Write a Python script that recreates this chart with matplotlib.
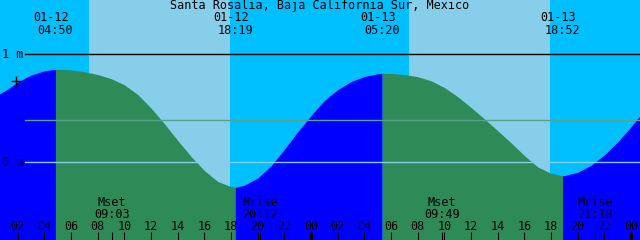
import numpy as np
import matplotlib
matplotlib.use("Agg")
from matplotlib import pyplot as plt
import matplotlib.transforms as mtransforms

# tide heights (m), every hour from 01-12 00:00
hours = list(range(0, 50))
heights = [0.59, 0.655, 0.74, 0.805, 0.845, 0.858, 0.853, 0.836, 0.81, 0.772,
           0.715, 0.625, 0.50, 0.355, 0.200, 0.052, -0.079, -0.18, -0.228, -0.215,
           -0.148, -0.035, 0.117, 0.28, 0.43, 0.57, 0.67, 0.745, 0.792, 0.817,
           0.82, 0.81, 0.79, 0.752, 0.69, 0.605, 0.505, 0.40, 0.29, 0.178,
           0.06, -0.045, -0.105, -0.126, -0.095, -0.03, 0.066, 0.186, 0.326, 0.48]

# high / low tides
ext_day = [0, 0, 1, 1]
ext_dates = ["01-12", "01-12", "01-13", "01-13"]
ext_times = ["04:50", "18:19", "05:20", "18:52"]
ext_heights = [0.858, -0.234, 0.821, -0.127]

# moon
moon_day = [0, 0, 1, 1]
moon_names = ["Mset", "Mrise", "Mset", "Mrise"]
moon_times = ["09:03", "20:12", "09:49", "21:18"]

# sun
sun_day = [0, 1]
sunrise = ["07:21", "07:21"]
sunset = ["17:55", "17:55"]

title = "Santa Rosalia, Baja California Sur, Mexico"


def to_h(day, s):
    hh, mm = s.split(":")
    return day * 24 + int(hh) + int(mm) / 60.0


ext_h = [to_h(d, s) for d, s in zip(ext_day, ext_times)]
moon_h = [to_h(d, s) for d, s in zip(moon_day, moon_times)]
rise_h = [to_h(d, s) for d, s in zip(sun_day, sunrise)]
set_h = [to_h(d, s) for d, s in zip(sun_day, sunset)]

t_all = np.array(hours + ext_h, dtype=float)
h_all = np.array(heights + ext_heights, dtype=float)
order = np.argsort(t_all)
t_all = t_all[order]
h_all = h_all[order]

W, H = 640, 240
x0 = 0.675            # hour at left edge
ytop = 162 / 108.0
ybot = (162 - 240) / 108.0

fig = plt.figure(figsize=(6.4, 2.4), dpi=100)
ax = fig.add_axes([0, 0, 1, 1])
ax.set_xlim(x0, x0 + 48)
ax.set_ylim(ybot, ytop)
ax.axis("off")
ax.add_patch(plt.Rectangle((0, 0), 1, 1, transform=ax.transAxes, color="#00BFFF", zorder=0))

for r, s in zip(rise_h, set_h):
    ax.axvspan(r, s, color="#87CEEB", zorder=1, lw=0)

# water, flood blue / ebb green
bounds = [-1e9] + ext_h + [1e9]
for i in range(len(bounds) - 1):
    m = (t_all >= bounds[i]) & (t_all <= bounds[i + 1])
    if i < len(ext_heights):
        rising = ext_heights[i] > 0.3
    else:
        rising = ext_heights[-1] < 0.3
    col = "#0000FF" if rising else "#2E8B57"
    ax.fill_between(t_all[m], h_all[m], ybot, color=col, lw=0, zorder=2)

# datum lines
xs = 25 / W
ax.axhline(1.0, xmin=xs, xmax=1, color="black", lw=1.0, zorder=3)
ax.axhline(0.386, xmin=xs, xmax=1, color="#55A38A", lw=1.0, zorder=3)
ax.axhline(0.0, xmin=xs, xmax=1, color="#87CEEB", lw=1.0, zorder=3)

fnt = dict(family="DejaVu Sans Mono", size=8.5, color="black")


def fy(px):
    return 1 - px / H


ax.text(2 / W, fy(58), "1 m", transform=ax.transAxes, ha="left", va="baseline", **fnt)
ax.text(2 / W, fy(166), "0 m", transform=ax.transAxes, ha="left", va="baseline", **fnt)
ax.plot([16 / W], [fy(80.7)], marker="+", ms=7, mew=1.0, color="black",
        transform=ax.transAxes, zorder=4)

ax.text(0.5, fy(9.3), title, transform=ax.transAxes, ha="center", va="baseline", **fnt)

trans = mtransforms.blended_transform_factory(ax.transData, ax.transAxes)
for t, d, s in zip(ext_h, ext_dates, ext_times):
    ax.annotate(d, xy=(t, fy(21.3)), xycoords=trans, xytext=(-2.9, 0),
                textcoords="offset points", ha="center", va="baseline", **fnt)
    ax.text(t, fy(34), s, transform=trans, ha="center", va="baseline", **fnt)

for t, n, s in zip(moon_h, moon_names, moon_times):
    ax.text(t, fy(206), n, transform=trans, ha="center", va="baseline", **fnt)
    ax.text(t, fy(218.3), s, transform=trans, ha="center", va="baseline", **fnt)

# time axis ticks
tick_h = list(range(2, 49, 2))
for t in tick_h:
    lw = 2.2 if t % 24 == 0 else 0.75
    ax.plot([t, t], [0, 8 / H], color="black", lw=lw, transform=trans,
            solid_capstyle="butt", zorder=4)
    ax.text(t, fy(230), "%02d" % (t % 24), transform=trans, ha="center",
            va="baseline", **fnt)
for t in moon_h:
    ax.plot([t, t], [0, 8 / H], color="black", lw=0.75, transform=trans,
            solid_capstyle="butt", zorder=4)

fig.savefig("out.png", dpi=100)
